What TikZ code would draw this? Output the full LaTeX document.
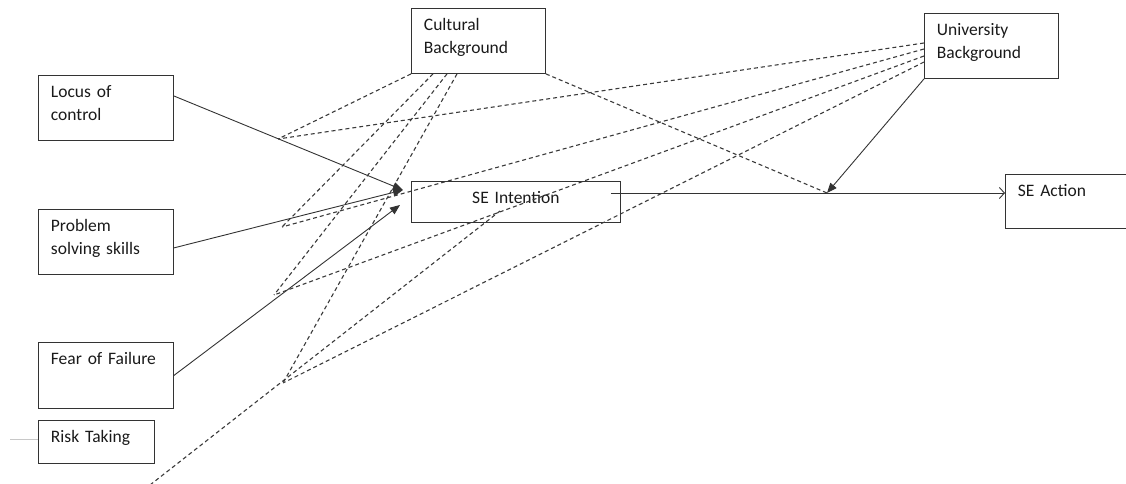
\documentclass[tikz,border=0pt]{standalone}
\usepackage{fontspec}
\setmainfont{Carlito}
\usetikzlibrary{arrows.meta,calc}
\definecolor{ink}{HTML}{1A1A1A}
\definecolor{edgegray}{HTML}{333333}
\definecolor{dashgray}{HTML}{3A3A3A}
\definecolor{hair}{HTML}{C8C8C8}
\tikzset{
  every node/.style={font=\fontsize{17.5}{23}\selectfont, text=ink},
  box/.style={draw=edgegray, line width=0.9pt, anchor=north west, align=left, inner xsep=12.5pt, inner ysep=0pt, text height=22.5pt},
  effect/.style={draw=edgegray, line width=0.9pt, -{Triangle[length=10pt,width=8pt]}},
  moder/.style={draw=dashgray, line width=1.1pt, dash pattern=on 4pt off 3pt},
}

\begin{document}
\begin{tikzpicture}[x=1pt, y=-1pt]
  \useasboundingbox (0,0) rectangle (1126,484);

  % constructs
  \node[box, text width=109pt, text depth=42.5pt] (cult) at (411,8) {Cultural\\Background};
  \node[box, text width=109pt, text depth=42.5pt] (univ) at (924,13) {University\\Background};
  \node[box, text width=110pt, text depth=42.5pt] (loc) at (38,75) {Locus of\\control};
  \node[box, text width=110pt, text depth=42.5pt] (prob) at (38,209) {Problem\\solving skills};
  \node[box, text width=110pt, text depth=43.5pt] (fear) at (38,342) {Fear of Failure};
  \node[box, text width=91pt, text depth=20.5pt] (risk) at (38,420) {Risk Taking};
  \node[box, text width=184pt, text depth=18.5pt, align=center] (sei) at (411,181) {SE Intention};
  \node[box, text width=100pt, text depth=31.5pt] (sea) at (1005,174) {SE Action};

  % arrow ends and moderation points
  \coordinate (tipA) at (403,190);
  \coordinate (tipB) at (400,205);
  \coordinate (pA) at (278,139);
  \coordinate (pB) at (282,227);
  \coordinate (pC) at (274,295);
  \coordinate (pD) at (283,383);
  \coordinate (m) at (827,193);
  \coordinate (stub) at (10,439);
  \coordinate (tail) at (150,485);
  \coordinate (tailend) at (500,211);

  % direct effects
  \draw[effect] (loc.10) -- (tipA);
  \draw[effect] (prob.355) -- (tipA);
  \draw[effect] (fear.east) -- (tipB);
  \draw[effect] (univ.south west) -- (m);
  \draw[draw=edgegray, line width=0.9pt, -{Straight Barb[length=5pt,width=11pt]}]
    ($(sei.east |- m)+(-10,0)$) -- (sea.west |- m);

  % moderators
  \foreach \s/\p in {0/pA,22/pB,36/pC,46/pD}
    \draw[moder] ([xshift=\s pt]cult.south west) -- (\p);
  \draw[moder] (cult.south east) -- (m);
  \foreach \s/\p in {30/pA,36/pB,43/pC,49/pD}
    \draw[moder] ([yshift=-\s pt]univ.north west) -- (\p);
  \draw[moder] (tail) -- (tailend);

  \draw[hair, line width=0.8pt] (stub) -- (stub -| risk.west);
\end{tikzpicture}
\end{document}
